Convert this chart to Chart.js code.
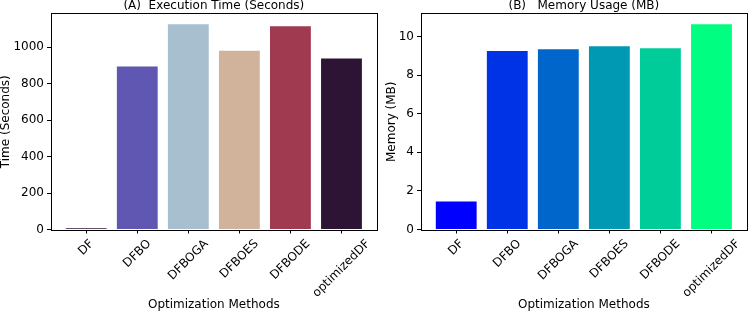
<!DOCTYPE html>
<html>
<head>
<meta charset="utf-8">
<script src="https://cdn.jsdelivr.net/npm/chart.js@4"></script>
<style>
  html, body { margin: 0; padding: 0; background: #fff; }
  #wrap { position: relative; width: 748px; height: 312px; overflow: hidden; }
  canvas { position: absolute; top: 0; }
</style>
</head>
<body>
<div id="wrap">
  <canvas id="timeChart" width="380" height="312" style="left:0"></canvas>
  <canvas id="memChart" width="368" height="312" style="left:380px"></canvas>
</div>
<script>
const methods = ['DF', 'DFBO', 'DFBOGA', 'DFBOES', 'DFBODE', 'optimizedDF'];
const timeValues = [7, 894, 1126, 980, 1115, 938];
const memoryValues = [1.45, 9.25, 9.34, 9.50, 9.39, 10.64];
const timeTicks = [0, 200, 400, 600, 800, 1000];
const memoryTicks = [0, 2, 4, 6, 8, 10];
const timeColors = ['#2f1437', '#5f57b1', '#a8bfcf', '#d0b39a', '#a03a50', '#2e1434'];
const memoryColors = ['#0000ff', '#0033e6', '#0066cc', '#0099b3', '#00cc99', '#00ff80'];

const FONT = 'DejaVu Sans';
Chart.defaults.font.family = FONT;
Chart.defaults.font.size = 12;
Chart.defaults.color = '#000';

// frame, panel title and rotated x labels (matplotlib style, centred under the tick)
const panelDecor = {
  id: 'panelDecor',
  afterDatasetsDraw(chart) {
    const {ctx, chartArea: a} = chart;
    ctx.save();
    ctx.strokeStyle = '#000';
    ctx.lineWidth = 1;
    ctx.strokeRect(Math.round(a.left) + 0.5, Math.round(a.top) - 0.5,
      Math.round(a.right - a.left), Math.round(a.bottom - a.top) + 1);
    ctx.restore();
  },
  afterDraw(chart, args, opts) {
    const {ctx, chartArea: a} = chart;
    const xs = chart.scales.x;
    ctx.save();
    ctx.fillStyle = '#000';
    ctx.font = '12px "' + FONT + '"';
    ctx.textAlign = 'center';
    ctx.textBaseline = 'alphabetic';
    ctx.fillText(opts.title, (a.left + a.right) / 2, 9);
    ctx.textBaseline = 'middle';
    opts.labels.forEach((lab, i) => {
      const w = ctx.measureText(lab).width;
      const x = xs.getPixelForValue(i);
      const y = a.bottom + 8.5 + (w + 11) * Math.SQRT1_2 / 2;
      ctx.setTransform(1, 0, 0, 1, x, y);
      ctx.rotate(-Math.PI / 4);
      ctx.fillText(lab, 0, 0);
    });
    ctx.restore();
  }
};

function drawPanel(id, values, colors, ticks, title, yTitle, yWidth, yTitlePad, rightPad) {
  const ctx = document.getElementById(id).getContext('2d');
  return new Chart(ctx, {
    type: 'bar',
    data: {
      datasets: [{
        data: values.map((v, i) => ({x: i, y: v})),
        backgroundColor: colors,
        borderWidth: 0,
        categoryPercentage: 1,
        barPercentage: 0.8
      }]
    },
    options: {
      responsive: false,
      animation: false,
      layout: { padding: { top: 14, right: rightPad, left: 0, bottom: 0 } },
      plugins: {
        legend: { display: false },
        tooltip: { enabled: false },
        panelDecor: { title, labels: methods }
      },
      scales: {
        x: {
          type: 'linear',
          min: -0.69,
          max: 5.69,
          offset: false,
          afterBuildTicks: s => { s.ticks = methods.map((_, i) => ({value: i})); },
          afterFit: s => { s.height = 82.5; },
          ticks: { display: false },
          grid: { offset: false, drawOnChartArea: false, drawTicks: true, tickLength: 4, color: '#000' },
          border: { display: false },
          title: { display: true, text: 'Optimization Methods', font: {size: 12, lineHeight: 1.2}, padding: {top: 0, bottom: 0} }
        },
        y: {
          min: 0,
          max: Math.max(...values) * 1.05,
          afterBuildTicks: s => { s.ticks = ticks.map(v => ({value: v})); },
          afterFit: s => { s.width = yWidth; },
          ticks: { padding: 3, callback: v => String(v) },
          grid: { drawOnChartArea: false, drawTicks: true, tickLength: 4, color: '#000' },
          border: { display: false },
          title: { display: true, text: yTitle, font: {size: 12, lineHeight: 1}, padding: {top: yTitlePad, bottom: 0} }
        }
      }
    },
    plugins: [panelDecor]
  });
}

drawPanel('timeChart', timeValues, timeColors, timeTicks,
  '(A)  Execution Time (Seconds)', 'Time (Seconds)', 51, 0, 3.3);
drawPanel('memChart', memoryValues, memoryColors, memoryTicks,
  '(B)   Memory Usage (MB)', 'Memory (MB)', 41, 5.5, 1.3);
</script>
</body>
</html>
